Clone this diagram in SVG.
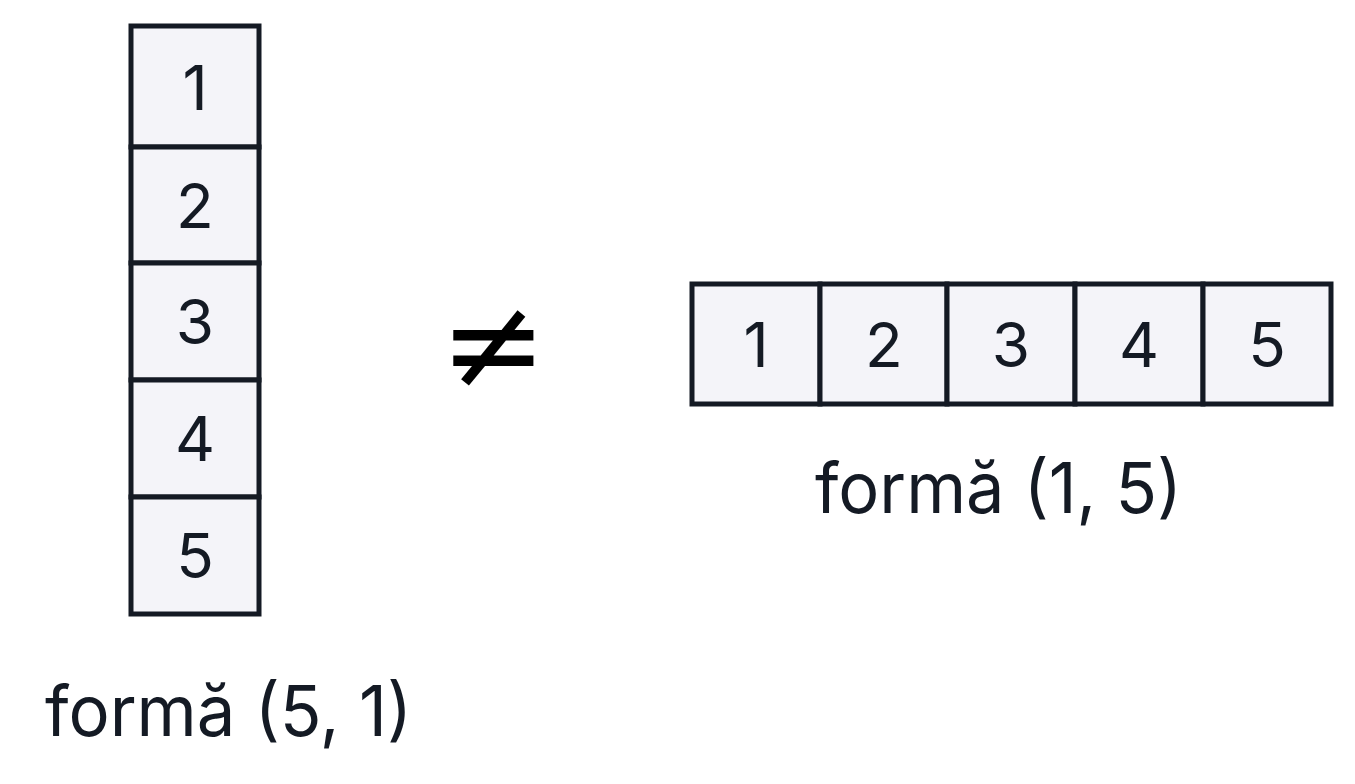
<svg xmlns="http://www.w3.org/2000/svg" width="1355" height="784" viewBox="0 0 1355 784">
<style>
.cell{fill:#f4f4f9;stroke:#141a24;stroke-width:5}
.num{font-family:Inter,"Noto Sans","Liberation Sans",sans-serif;font-size:62px;fill:#141a24;text-anchor:middle}
.lbl{font-family:Inter,"Noto Sans","Liberation Sans",sans-serif;font-size:70px;fill:#141a24}
</style>
<rect width="1355" height="784" fill="#ffffff"/>
<g id="column">
<rect class="cell" x="131" y="26" width="128" height="121"/>
<rect class="cell" x="131" y="147" width="128" height="116"/>
<rect class="cell" x="131" y="263" width="128" height="117"/>
<rect class="cell" x="131" y="380" width="128" height="117"/>
<rect class="cell" x="131" y="497" width="128" height="117"/>
<text class="num" x="195" y="110">1</text>
<text class="num" x="195" y="228">2</text>
<text class="num" x="195" y="344">3</text>
<text class="num" x="195" y="461">4</text>
<text class="num" x="195" y="578">5</text>
</g>
<g id="label-left">
<text class="lbl" x="45" y="736" textLength="367" lengthAdjust="spacingAndGlyphs">formă (5, 1)</text>
</g>
<g id="neq">
<text x="493" y="388" font-family="DejaVu Sans,sans-serif" font-size="128" fill="#000" text-anchor="middle">≠</text>
</g>
<g id="row">
<rect class="cell" x="692" y="284" width="128" height="120"/>
<rect class="cell" x="820" y="284" width="127" height="120"/>
<rect class="cell" x="947" y="284" width="128" height="120"/>
<rect class="cell" x="1075" y="284" width="128" height="120"/>
<rect class="cell" x="1203" y="284" width="128" height="120"/>
<text class="num" x="756" y="367">1</text>
<text class="num" x="884" y="367">2</text>
<text class="num" x="1011" y="367">3</text>
<text class="num" x="1139" y="367">4</text>
<text class="num" x="1267" y="367">5</text>
</g>
<g id="label-right">
<text class="lbl" x="815" y="513" textLength="367" lengthAdjust="spacingAndGlyphs">formă (1, 5)</text>
</g>
<g id="connectors"></g>
</svg>
